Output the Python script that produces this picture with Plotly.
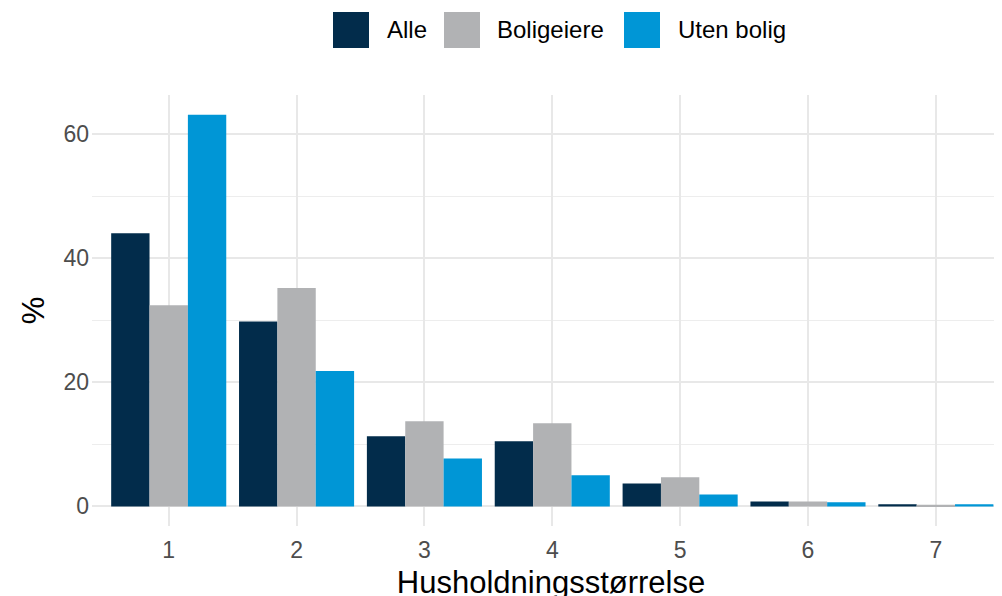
import plotly.graph_objects as go

categories = [1, 2, 3, 4, 5, 6, 7]
alle = [44.0, 29.8, 11.3, 10.5, 3.7, 0.8, 0.35]
boligeiere = [32.4, 35.2, 13.7, 13.4, 4.7, 0.8, 0.25]
uten_bolig = [63.1, 21.8, 7.7, 5.0, 1.9, 0.65, 0.35]

series_names = ["Alle", "Boligeiere", "Uten bolig"]
series_values = [alle, boligeiere, uten_bolig]
colors = ["#022C4B", "#B1B2B4", "#0096D6"]

OFF = 8  # page body margin offset
W, H = 1002, 596
L, R = 92 - OFF, 0
T = 95 - OFF
B = H - (525.6 - OFF)
PW = W - L - R
PH = H - T - B

fig = go.Figure()
for name, vals, col in zip(series_names, series_values, colors):
    fig.add_trace(go.Bar(x=categories, y=vals, name=name, marker=dict(color=col, line=dict(width=0)),
                         showlegend=False))

FONT = "Liberation Sans, Arial, sans-serif"
grid = "#E8E8E8"

fig.update_layout(
    width=W, height=H,
    margin=dict(l=L, r=R, t=T, b=B, pad=0),
    paper_bgcolor="white", plot_bgcolor="white",
    barmode="group", bargap=0.1, bargroupgap=0,
    font=dict(family=FONT, color="#4D4D4D", size=23),
    xaxis=dict(
        range=[0.4, 7.58], tickmode="array", tickvals=categories,
        ticktext=[str(c) for c in categories],
        showgrid=True, gridcolor=grid, gridwidth=1.6, zeroline=False, showline=False,
        ticks="", ticklabelstandoff=8,
        tickfont=dict(size=23, color="#4D4D4D", family=FONT),
        title=dict(text="Husholdningsstørrelse", font=dict(size=31, color="black", family=FONT), standoff=9),
    ),
    yaxis=dict(
        range=[-3.16, 66.29], tickvals=[0, 20, 40, 60],
        showgrid=True, gridcolor=grid, gridwidth=1.6, zeroline=False, showline=False,
        ticks="", ticklabelstandoff=2,
        tickfont=dict(size=23, color="#4D4D4D", family=FONT),
        minor=dict(tickvals=[10, 30, 50], showgrid=True, gridcolor="#EDEDED", gridwidth=1.0),
        title=dict(text="%", font=dict(size=31, color="black", family=FONT), standoff=9),
    ),
)

def px_to_paper_x(px):
    return (px - OFF - L) / PW

def px_to_paper_y(py):
    return (T + PH - (py - OFF)) / PH

legend_items = [(333, 387), (444, 497), (624, 678)]
for (sx, tx), name, col in zip(legend_items, series_names, colors):
    fig.add_shape(type="rect", xref="paper", yref="paper",
                  x0=px_to_paper_x(sx), x1=px_to_paper_x(sx + 36),
                  y0=px_to_paper_y(48), y1=px_to_paper_y(12),
                  fillcolor=col, line=dict(width=0), layer="above")
    fig.add_annotation(xref="paper", yref="paper", x=px_to_paper_x(tx), y=px_to_paper_y(30),
                       text=name, showarrow=False, xanchor="left", yanchor="middle",
                       xshift=-2, font=dict(size=24, color="black", family=FONT))

fig.write_html("out.html")
